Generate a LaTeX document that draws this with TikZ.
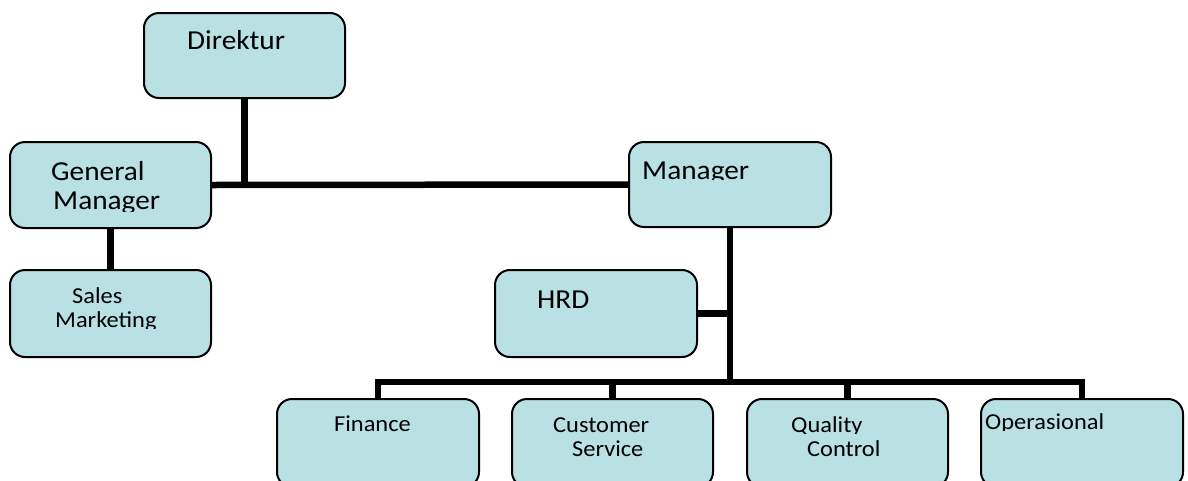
\documentclass[tikz,border=0pt]{standalone}
\usepackage{fontspec}
\setmainfont{Carlito}[FakeStretch=1.07]
\definecolor{boxfill}{HTML}{B9E0E3}
\tikzset{
  unit box/.style={draw=black, line width=2pt, fill=boxfill, rectangle,
    rounded corners=15pt, minimum width=201pt, minimum height=86pt, inner sep=0pt},
  big text/.style={anchor=base west, inner sep=0pt, font=\fontsize{27.4}{27.4}\selectfont},
  small text/.style={anchor=base west, inner sep=0pt, font=\fontsize{22.8}{22.8}\selectfont},
  link/.style={draw=black, line width=6.5pt, line join=miter}
}
\begin{document}
\begin{tikzpicture}[x=1pt, y=-1pt]
\useasboundingbox (0,0) rectangle (1188,480);
\clip (0,0) rectangle (1188,480);

% boxes
\node[unit box, minimum height=85pt] (dir) at (244.5,55.5) {};
\node[unit box] (gm)  at (110.5,185) {};
\node[unit box, minimum height=87pt] (sm)  at (110.5,313.5) {};
\node[unit box, minimum width=202pt, minimum height=85pt] (mgr) at (730,184.5) {};
\node[unit box, minimum width=202pt, minimum height=87pt] (hrd) at (596,313.5) {};
\node[unit box, minimum width=202pt, minimum height=88pt] (fin) at (378,443) {};
\node[unit box, minimum height=88pt] (cs)  at (612.5,443) {};
\node[unit box, minimum height=88pt] (qc)  at (847.5,443) {};
\node[unit box, minimum width=202pt, minimum height=88pt] (op)  at (1082,443) {};
\coordinate (bus) at (730,382);

% connectors
\draw[link] (dir.south) -- (dir.south |- gm.east);
\draw[link] (gm.east) -- (mgr.west);
\draw[link] (gm.south) -- (sm.north);
\draw[link] (mgr.south) -- (bus);
\draw[link] (hrd.east) -- (hrd.east -| mgr.south);
\draw[link] (fin.north) -- (fin.north |- bus) -- (op.north |- bus) -- (op.north);
\draw[link] (cs.north) -- (cs.north |- bus);
\draw[link] (qc.north) -- (qc.north |- bus);

% labels
\node[big text] (dirt) at (187,49) {Direktur};
\node[big text] (gmt1) at (51,180) {General};
\begin{scope}
  \clip (0,0) rectangle (1188,211.5);
  \node[big text] (gmt2) at (53,209.5) {Manager};
\end{scope}
\node[small text] (smt1) at (72,303) {Sales};
\begin{scope}
  \clip (0,0) rectangle (1188,328.5);
  \node[small text] (smt2) at (55,327) {Marketing};
\end{scope}
\begin{scope}
  \clip (0,0) rectangle (1188,179.5);
  \node[big text] (mgrt) at (642,179.3) {Manager};
\end{scope}
\node[big text] (hrdt) at (537,308) {HRD};
\node[small text] (fint) at (334,431.7) {Finance};
\node[small text] (cst1) at (553,432) {Customer};
\node[small text] (cst2) at (572,456.5) {Service};
\begin{scope}
  \clip (0,0) rectangle (1188,433);
  \node[small text] (qct1) at (791,432) {Quality};
\end{scope}
\node[small text] (qct2) at (807,456) {Control};
\begin{scope}
  \clip (0,0) rectangle (1188,430.5);
  \node[small text] (opt) at (985,429.5) {Operasional};
\end{scope}
\end{tikzpicture}
\end{document}
